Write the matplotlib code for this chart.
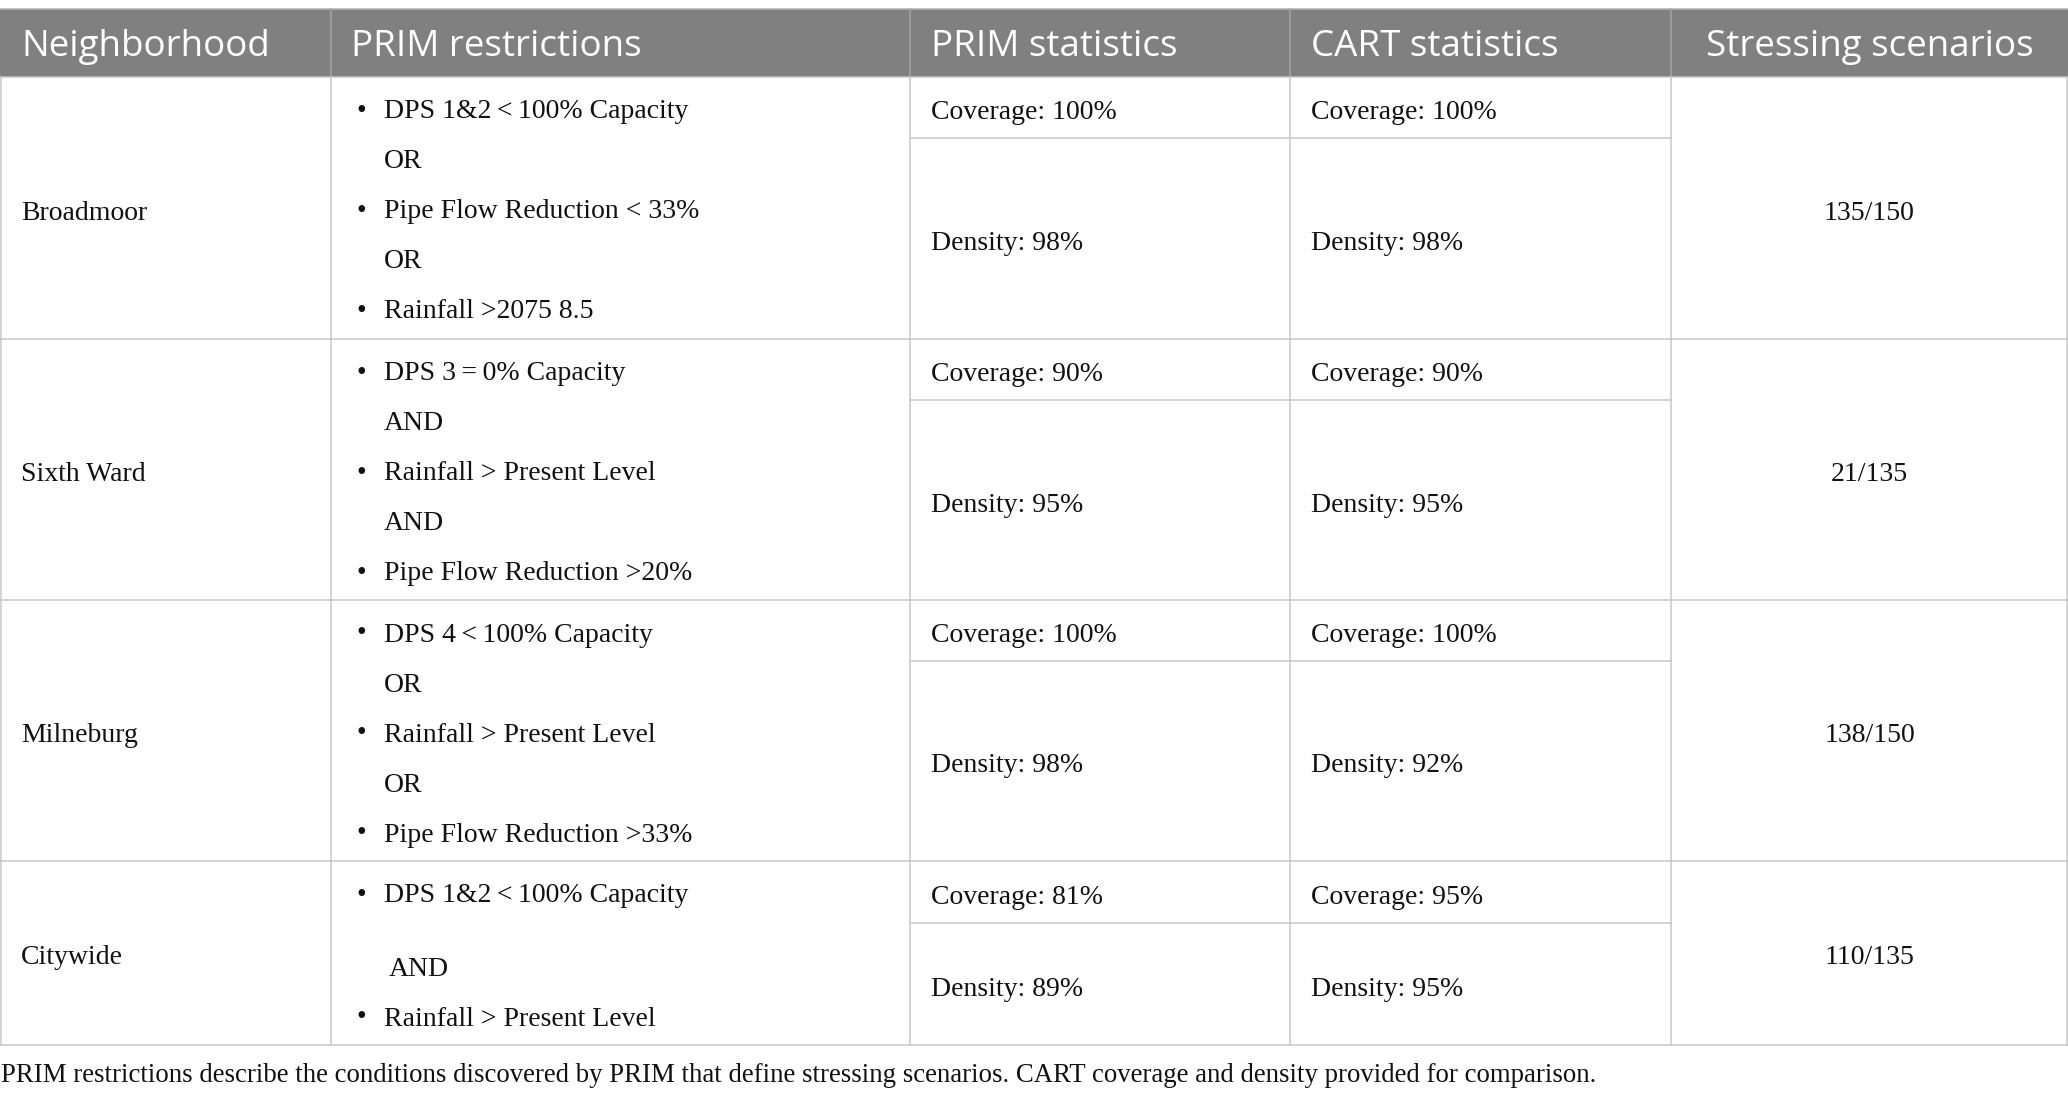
import matplotlib
matplotlib.use("Agg")
import matplotlib.pyplot as plt
from matplotlib.patches import Rectangle

W, H = 2068, 1101
DPI = 100

headers = ["Neighborhood", "PRIM restrictions", "PRIM statistics", "CART statistics", "Stressing scenarios"]
neighborhoods = ["Broadmoor", "Sixth Ward", "Milneburg", "Citywide"]
restrictions = [
    [("b", "DPS 1&2\u2009<\u2009100% Capacity"), ("c", "OR"), ("b", "Pipe Flow Reduction < 33%"), ("c", "OR"), ("b", "Rainfall >2075 8.5")],
    [("b", "DPS 3\u2009=\u20090% Capacity"), ("c", "AND"), ("b", "Rainfall > Present Level"), ("c", "AND"), ("b", "Pipe Flow Reduction >20%")],
    [("b", "DPS 4\u2009<\u2009100% Capacity"), ("c", "OR"), ("b", "Rainfall > Present Level"), ("c", "OR"), ("b", "Pipe Flow Reduction >33%")],
    [("b", "DPS 1&2\u2009<\u2009100% Capacity"), ("g", ""), ("c2", "AND"), ("b", "Rainfall > Present Level")],
]
prim_coverage = ["100%", "90%", "100%", "81%"]
prim_density = ["98%", "95%", "98%", "89%"]
cart_coverage = ["100%", "90%", "100%", "95%"]
cart_density = ["98%", "95%", "92%", "95%"]
stressing = ["135/150", "21/135", "138/150", "110/135"]
caption = ("PRIM restrictions describe the conditions discovered by PRIM that define stressing scenarios. "
           "CART coverage and density provided for comparison.")

# layout (pixels)
col_x = [0, 331, 910, 1290, 1671, W]
head_top, head_bot = 9, 77
row_y = [77, 339, 600, 861, 1045]
cov_y = [138, 400, 661, 923]
line_col = "#c6c6c6"
head_col = "#808080"
lw = 1.5 * 72 / DPI
DY = 5  # vertical text offset (pixels)

fig = plt.figure(figsize=(W / DPI, H / DPI), dpi=DPI)
ax = fig.add_axes([0, 0, 1, 1])
ax.set_xlim(0, W)
ax.set_ylim(H, 0)
ax.axis("off")

serif = ["Liberation Serif", "DejaVu Serif"]
sans = ["Open Sans", "DejaVu Sans"]
body_fs = 20
head_fs = 26.5
ink = "#111111"

# header
ax.add_patch(Rectangle((0, head_top), W, head_bot - head_top, facecolor=head_col, edgecolor="none"))
ax.plot([0, W], [head_top, head_top], color="#b0b0b0", lw=lw)
for i in range(1, 5):
    ax.plot([col_x[i], col_x[i]], [head_top, head_bot], color="#a4a4a4", lw=lw)
head_x = [21, 351, 931, 1311]
for i, h in enumerate(headers):
    yc = (head_top + head_bot) / 2 + 4
    if i < 4:
        ax.text(head_x[i], yc, h, color="white", fontsize=head_fs, family=sans, ha="left", va="center")
    else:
        ax.text((col_x[4] + col_x[5]) / 2, yc, h, color="white", fontsize=head_fs, family=sans, ha="center", va="center")

# grid lines
for y in row_y:
    ax.plot([0, W], [y, y], color=line_col, lw=lw)
for i in range(len(neighborhoods)):
    ax.plot([col_x[2], col_x[4]], [cov_y[i], cov_y[i]], color=line_col, lw=lw)
for x in col_x:
    xx = min(max(x, 0.75), W - 0.75)
    ax.plot([xx, xx], [row_y[0], row_y[-1]], color=line_col, lw=lw)


def put(x, y, s, **kw):
    kw.setdefault("ha", "left")
    ax.text(x, y + DY, s, fontsize=kw.pop("fs", body_fs), family=serif, va="center", color=ink, **kw)


# body
for i, name in enumerate(neighborhoods):
    top, bot = row_y[i], row_y[i + 1]
    ymid = (top + bot) / 2
    put(21, ymid, name)
    yy = top + 30
    for kind, txt in restrictions[i]:
        if kind == "g":
            yy += 23
            continue
        if kind == "b":
            put(357, yy - 1, "\u2022", fs=body_fs)
            put(384, yy, txt)
        elif kind == "c":
            put(384, yy, txt)
        else:
            put(389, yy, txt)
        yy += 50
    cy = (top + cov_y[i]) / 2
    dy = (cov_y[i] + bot) / 2
    put(931, cy, "Coverage: " + prim_coverage[i])
    put(931, dy, "Density: " + prim_density[i])
    put(1311, cy, "Coverage: " + cart_coverage[i])
    put(1311, dy, "Density: " + cart_density[i])
    put((col_x[4] + col_x[5]) / 2, ymid, stressing[i], ha="center")

ax.text(1, 1076, caption, fontsize=19.3, family=serif, ha="left", va="center", color=ink)

fig.savefig("out.png", dpi=DPI)
